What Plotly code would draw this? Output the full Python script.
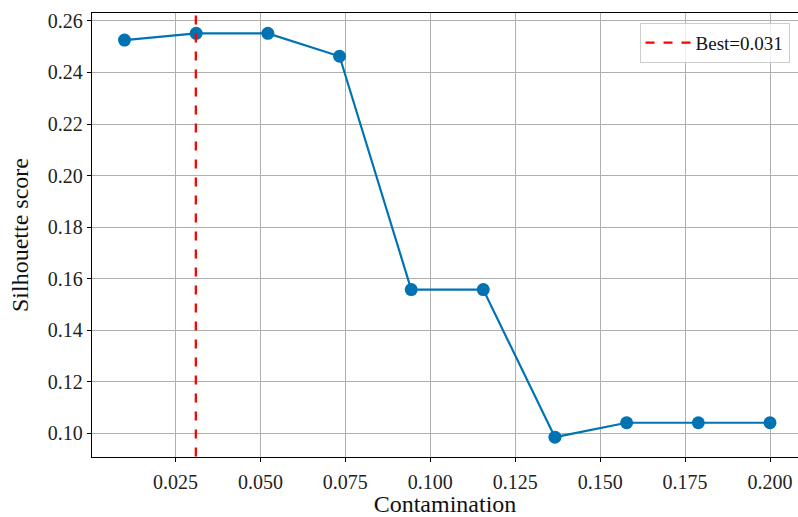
import plotly.graph_objects as go

contamination = [0.01, 0.0311, 0.0522, 0.0733, 0.0944, 0.1156, 0.1367, 0.1578, 0.1789, 0.2]
silhouette = [0.2526, 0.2552, 0.2552, 0.2463, 0.1557, 0.1557, 0.0984, 0.1040, 0.1040, 0.1040]
best_x = 0.031
best_label = "Best=0.031"
x_ticks = [0.025, 0.050, 0.075, 0.100, 0.125, 0.150, 0.175, 0.200]
y_ticks = [0.10, 0.12, 0.14, 0.16, 0.18, 0.20, 0.22, 0.24, 0.26]

FONT = "Liberation Serif, DejaVu Serif, serif"

fig = go.Figure()
fig.add_trace(go.Scatter(
    x=contamination, y=silhouette, mode="lines+markers",
    line=dict(color="#0173B2", width=2.2),
    marker=dict(color="#0173B2", size=13),
    showlegend=False,
))
fig.add_trace(go.Scatter(
    x=[best_x, best_x], y=[0, 1], mode="lines",
    line=dict(color="red", width=2.3, dash="dash"),
    name=best_label, showlegend=True,
))

axis_common = dict(
    showline=True, linecolor="black", linewidth=1.3,
    ticks="outside", ticklen=4, tickcolor="black", tickwidth=1.1,
    showgrid=True, gridcolor="#b0b0b0", gridwidth=1.1, zeroline=False,
    tickfont=dict(family=FONT, size=20, color="#222"),
)

fig.update_xaxes(
    range=[0.00044, 0.20824], tickvals=x_ticks, mirror=True,
    ticktext=[f"{v:.3f}" for v in x_ticks], ticklabelstandoff=3,
    title=dict(text="Contamination", font=dict(family=FONT, size=24, color="#111"), standoff=6),
    **axis_common,
)
fig.update_yaxes(
    range=[0.0907, 0.2631], tickvals=y_ticks, mirror=False,
    ticktext=[f"{v:.2f}" for v in y_ticks],
    title=dict(text="Silhouette score", font=dict(family=FONT, size=24, color="#111"), standoff=12),
    **axis_common,
)

fig.update_layout(
    width=798, height=517,
    margin=dict(l=92, r=0, t=13, b=60),
    plot_bgcolor="white", paper_bgcolor="white",
    font=dict(family=FONT, color="#111"),
    legend=dict(
        x=0.988, y=0.978, xanchor="right", yanchor="top",
        bgcolor="rgba(255,255,255,0.8)", bordercolor="#cccccc", borderwidth=1,
        font=dict(family=FONT, size=19, color="#111"),
        itemwidth=45,
    ),
)

fig.write_html("out.html")
